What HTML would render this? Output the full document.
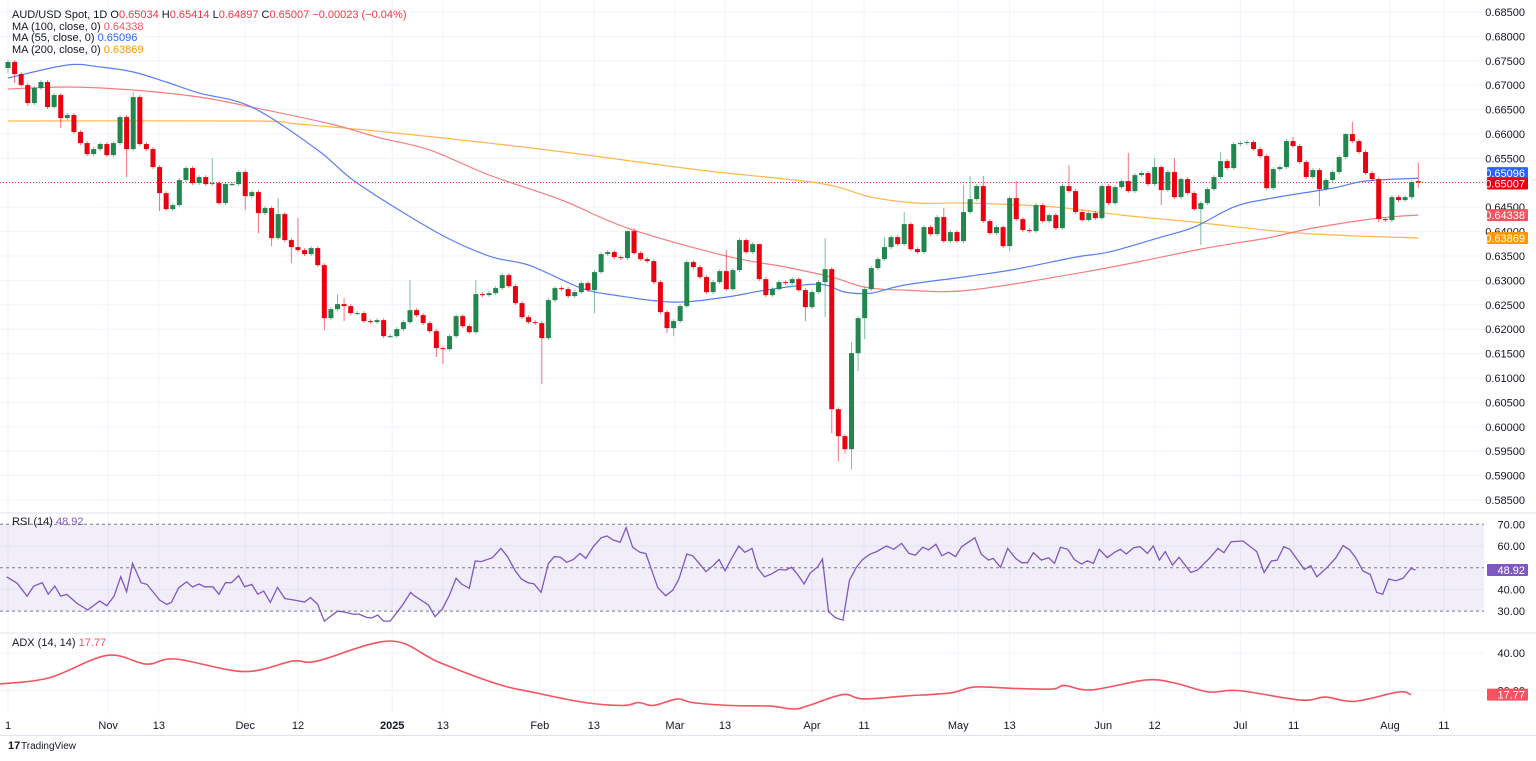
<!DOCTYPE html>
<html><head><meta charset="utf-8">
<style>
html,body{margin:0;padding:0;background:#fff;}
body{width:1536px;height:756px;overflow:hidden;font-family:"Liberation Sans",sans-serif;}
svg text{font-family:"Liberation Sans",sans-serif;}
</style></head>
<body>
<svg id="chart" width="1536" height="756" viewBox="0 0 1536 756" xmlns="http://www.w3.org/2000/svg">
  <g id="grid"></g>
  <g id="bands"></g>
  <g id="marks"></g>
  <g id="axes"></g>
  <g font-size="11">
    <text x="12" y="18" fill="#131722">AUD/USD Spot, 1D  <tspan>O</tspan><tspan fill="#f23645">0.65034</tspan>  H<tspan fill="#f23645">0.65414</tspan>  L<tspan fill="#f23645">0.64897</tspan>  C<tspan fill="#f23645">0.65007</tspan>  <tspan fill="#f23645">−0.00023 (−0.04%)</tspan></text>
    <text x="12" y="30" fill="#131722">MA (100, close, 0)  <tspan fill="#f7525f">0.64338</tspan></text>
    <text x="12" y="41" fill="#131722">MA (55, close, 0)  <tspan fill="#2962ff">0.65096</tspan></text>
    <text x="12" y="53" fill="#131722">MA (200, close, 0)  <tspan fill="#ff9800">0.63869</tspan></text>
    <text x="12" y="525" fill="#131722">RSI (14)  <tspan fill="#7e57c2">48.92</tspan></text>
    <text x="12" y="646" fill="#131722">ADX (14, 14)  <tspan fill="#f7525f">17.77</tspan></text>
  </g>
  <g>
    <text x="8" y="749" font-size="11" font-weight="bold" fill="#131722">17</text>
    <text x="21" y="749" font-size="10" fill="#131722">TradingView</text>
  </g>
</svg>
<script>
const closes=[.67475,.67229,.67003,.66634,.66942,.67065,.66552,.66798,.66327,.66388,.6604,.65814,.65589,.65691,.65794,.65568,.65814,.66347,.65691,.66757,.65794,.65691,.65322,.64789,.64461,.64543,.65056,.65302,.64994,.65117,.64974,.64994,.64584,.64974,.64974,.6522,.64728,.6481,.6438,.64482,.63867,.64359,.63826,.63682,.63621,.63539,.63662,.63313,.62227,.62411,.62514,.62473,.6233,.6233,.62166,.62145,.62186,.61858,.61858,.62001,.62145,.62391,.62288,.62124,.6196,.61612,.61591,.61858,.62268,.62063,.6194,.62719,.62698,.6274,.62842,.63108,.62883,.62534,.62247,.62145,.62124,.61817,.62596,.62842,.62821,.62678,.6276,.62944,.62801,.6317,.63539,.6358,.63477,.63457,.6401,.6356,.63436,.63395,.62965,.6235,.62022,.62166,.62473,.63375,.63272,.63067,.6276,.62965,.6319,.62821,.63211,.63826,.6358,.63744,.63026,.62698,.62821,.62965,.62944,.63026,.62801,.62452,.6276,.62965,.63231,.60361,.59808,.59541,.61509,.62227,.62821,.63252,.63436,.63682,.63887,.63744,.64154,.63641,.6358,.64092,.63949,.64297,.63805,.6399,.63805,.644,.64666,.64933,.64215,.6397,.64092,.63703,.64687,.64256,.64031,.6401,.64543,.64215,.64338,.64072,.64933,.6483,.644,.64236,.6438,.64277,.64933,.64584,.64912,.65035,.6483,.65158,.652,.64974,.65322,.64851,.6522,.64707,.65076,.64789,.64461,.64584,.64871,.65117,.65445,.65302,.65794,.65814,.65835,.65691,.65548,.64892,.65281,.65322,.65855,.65753,.65425,.65117,.65261,.64871,.65056,.6522,.65527,.65999,.65855,.6563,.652,.65076,.64256,.64236,.64707,.64646,.64707,.65015,.65007];
const firstOpen=0.67352;
const lastOpen=0.65034;
const hiNum=[1,20,21,32,42,45,51,52,62,72,95,96,110,112,115,125,129,134,137,143,146,147,149,154,162,171,175,178,185,196,204,205,215];
const hiVal=[.67516,.6686,.66798,.65507,.64687,.64277,.62719,.62637,.63006,.63006,.64031,.64072,.63621,.63867,.63621,.63867,.61735,.63887,.644,.64482,.64954,.65138,.65138,.65036,.65364,.6561,.65507,.65507,.6563,.65938,.6602,.66245,.65414];
const loNum=[1,2,4,9,19,24,37,39,41,44,49,52,66,67,82,90,101,102,122,125,126,127,128,129,130,131,153,176,182,200,209,211,215];
const loVal=[.67249,.67045,.66573,.66122,.65117,.64421,.64441,.63969,.63703,.63354,.61981,.62166,.6143,.61284,.60874,.6233,.6192,.61858,.62166,.62247,.59869,.59296,.5946,.59131,.61141,.61797,.636,.64543,.63723,.64523,.64195,.64195,.64897];
const ma55Idx=[0,9,14,19,24,29,37,47,53,65,73,79,87,92,101,109,115,123,127,131,136,146,153,162,167,175,180,186,191,201,206,214];
const ma55Val=[.67147,.67413,.67372,.6727,.67065,.66839,.66552,.65671,.64994,.6399,.63498,.63313,.62842,.62699,.62555,.62658,.62801,.62924,.6276,.6274,.62904,.63088,.63232,.63478,.6358,.63888,.64093,.64503,.64667,.64892,.65036,.65096];
const ma100Idx=[0,9,19,29,37,49,56,64,73,84,94,109,118,125,130,136,146,165,181,191,198,208,214];
const ma100Val=[.66922,.66963,.66901,.66758,.66552,.66204,.65937,.65671,.65159,.64646,.64072,.63498,.63273,.63068,.62863,.62801,.62801,.63211,.63641,.63867,.64072,.64277,.64338];
const ma200Idx=[0,37,44,59,82,105,123,131,138,146,159,169,180,196,214];
const ma200Val=[.66266,.66266,.66204,.66019,.65671,.65261,.64994,.64707,.64584,.64584,.64503,.64338,.64195,.63969,.63869];
const rsiIdx=[-0.2,1.4,2.9,3.9,5.2,6.1,7.1,8,8.9,10.5,12.1,13.9,15,16.1,17.1,18,18.9,20.2,21.1,23,24.1,24.8,25.9,27.1,28,29,29.8,31.1,32,33,33.9,35,35.9,37,37.9,38.8,39.8,40.9,42,43.8,45,45.9,47,48,50,50.9,52.3,53.3,54.4,55.2,56.1,57,58,59.8,61.1,61.5,63.8,64.8,65.9,67,68,68.9,70,70.9,71.8,73.5,74.8,75.8,77,77.9,78.9,79.8,80.9,82,82.9,83.8,84.8,85.8,86.8,87.7,88.8,90,90.9,91.8,92.9,93.8,94.8,95.9,96.8,98.6,99.8,100.9,101.8,103,103.9,104.8,105.9,107,107.9,108.8,109.8,110.9,111.8,112.9,113.8,114.8,115.9,117,118,118.9,119.7,120.8,121.7,122.9,123.6,124.5,125.6,126.7,127.7,128.8,129.7,130.8,131.8,133.3,134.4,135.6,136.7,137.7,138.8,139.7,140.8,141.7,142.7,143.8,144.7,146.7,147.7,148.8,149.5,150.6,151.7,152.9,153.8,154.7,155.6,156.8,157.9,158.8,159.7,160.8,161.8,162.9,163.8,164.7,165.6,166.8,167.9,168.8,169.7,170.8,171.8,172.9,173.8,174.7,175.6,176.7,177.7,179.5,180.5,182.4,183.6,184.5,185.6,187.4,189.5,190.6,191.7,192.6,193.6,194.5,196.7,197.7,198.6,200.2,201.5,202.6,203.6,204.5,205.6,206.7,207.7,208.6,209.5,210.6,211.7,212.9,213.6];
const rsiVal=[45.8,42.8,36.9,41.5,43.1,37.8,41.5,36.9,37.7,33.5,30.5,34.6,32.5,36.9,45.8,38.9,52,43.1,42.3,35.1,33.1,34,40.8,43.5,41.1,42.5,41.2,41.2,37.8,43.1,43.1,46.3,41.2,42.3,37.8,39.2,34,40.9,35.8,34.9,34.2,36.2,33.1,25.4,30,29.7,28.6,28.6,27.1,26.8,28.2,25.4,25.4,32.5,38.6,37.4,32.8,27.4,30.9,37.4,45.1,42.3,40.5,53.1,52.8,54.6,58.9,55.1,48.5,44.8,43.1,42.6,38.6,52,55.1,54.9,52.5,53.8,56.6,54.3,59.7,63.8,64.6,62.8,61.7,68.5,59.4,57.1,56.5,40.8,37.1,39.7,44.8,56.3,55.5,52.3,48.2,50.9,53.8,48.6,54.3,60,57.1,58.9,49.7,45.8,47.2,49.2,48.9,50.2,47.4,42.5,47.4,50.5,54,29.7,26.9,25.8,44.3,50.5,53.8,56.2,57.4,60,58.5,61.2,56.6,55.8,59.4,58.2,60.8,55.5,57.1,55.1,59.7,63.8,56.2,53.5,54.3,50.2,58.9,54.3,52.3,52.3,56.9,53.5,54.6,52,59.4,58.5,53.8,51.7,53.2,52,58.5,54.6,57.1,58.5,56.3,59.2,59.7,56.6,60,53.5,57.4,51.2,54.8,47.8,48.9,54.6,58.9,56.9,62,62.3,57.4,47.8,53.1,53.5,59.7,58.5,49.2,50.9,45.8,50.2,54.6,60.2,58.2,54.6,48.5,46.9,38.6,37.8,44.8,44,45.1,49.7,48.92];
const adxIdx=[-1.2,6.2,15,21,25.4,35.8,43.2,46.9,58,65.3,74.2,80.1,87.5,93.4,95.7,97.9,101.6,103.8,109.7,115.6,119.3,121.5,126.7,129.7,136.3,143,146.7,152.6,158.5,160.3,164.4,172.6,177,182.2,186.6,196.2,199.9,204.3,211,212.9];
const adxVal=[23.5,26.7,38.7,34.1,36.8,30.1,35.7,35.7,46.4,35.2,23.5,18.7,13.6,12,13.6,12,15.5,13.6,12,11.7,10.1,12,17.8,15.5,17.1,18.7,21.9,21.1,20.8,22.7,20.3,25.6,24,19.2,20,14.9,16.5,14.2,19.2,17.77];
const priceTicks=[.685,.68,.675,.67,.665,.66,.655,.65,.645,.64,.635,.63,.625,.62,.615,.61,.605,.6,.595,.59,.585];
const rsiTicks=[70,60,40,30];
const adxTicks=[40,20];
const dateLabels=["1","Nov","13","Dec","12","2025","13","Feb","13","Mar","13","Apr","11","May","13","Jun","12","Jul","11","Aug","11"];
const dateIdx=[0,15.2,22.9,36,44,58.3,66,80.7,88.9,101.2,108.8,122,129.9,144.2,152,166.2,174,187,195.1,209.7,217.9];

const NS="http://www.w3.org/2000/svg";
const xS=i=>8+i*6.59;
const yP=p=>12+(0.685-p)/0.005*24.4;
const yR=v=>567.7-(v-50)*2.17;
const yA=v=>690.5-(v-20)*1.875;
function mk(tag,attrs,parent){const e=document.createElementNS(NS,tag);for(const k in attrs)e.setAttribute(k,attrs[k]);parent.appendChild(e);return e;}
function smooth(pts){let d='M'+pts[0][0].toFixed(1)+','+pts[0][1].toFixed(1);
for(let i=0;i<pts.length-1;i++){const p0=pts[Math.max(0,i-1)],p1=pts[i],p2=pts[i+1],p3=pts[Math.min(pts.length-1,i+2)];
const c1=[p1[0]+(p2[0]-p0[0])/6,p1[1]+(p2[1]-p0[1])/6],c2=[p2[0]-(p3[0]-p1[0])/6,p2[1]-(p3[1]-p1[1])/6];
d+=' C'+c1[0].toFixed(1)+','+c1[1].toFixed(1)+' '+c2[0].toFixed(1)+','+c2[1].toFixed(1)+' '+p2[0].toFixed(1)+','+p2[1].toFixed(1);}
return d;}
const grid=document.getElementById('grid'),marks=document.getElementById('marks'),axes=document.getElementById('axes'),bands=document.getElementById('bands');
const PR=1484;
dateIdx.forEach((d,k)=>{const l=mk('line',{x1:xS(d),x2:xS(d),y1:0,y2:713,stroke:'#f0f3fa','stroke-width':1},grid);

});
priceTicks.forEach(p=>{const l=mk('line',{x1:0,x2:PR,y1:yP(p),y2:yP(p),stroke:'#f0f3fa'},grid);

});
[60,40].forEach(v=>{const l=mk('line',{x1:0,x2:PR,y1:yR(v),y2:yR(v),stroke:'#f0f3fa'},grid);

});
adxTicks.forEach(v=>{const l=mk('line',{x1:0,x2:PR,y1:yA(v),y2:yA(v),stroke:'#f0f3fa'},grid);

});
[513,633].forEach(y=>{const l=mk('line',{x1:0,x2:1536,y1:y,y2:y,stroke:'#e0e3eb'},grid);

});
const bl=mk('line',{x1:0,x2:1536,y1:735.5,y2:735.5,stroke:'#e0e3eb'},grid);


const band=mk('rect',{x:0,y:yR(70),width:PR,height:yR(30)-yR(70),fill:'rgba(126,87,194,0.1)'},bands);


[70,50,30].forEach(v=>{const l=mk('line',{x1:0,x2:PR,y1:yR(v),y2:yR(v),stroke:'#787b86','stroke-dasharray':'3,3','stroke-width':1},bands);

});
const lp=mk('line',{x1:0,x2:PR,y1:yP(closes[closes.length-1]),y2:yP(closes[closes.length-1]),stroke:'#f23645','stroke-dasharray':'1,2','stroke-width':1},marks);


function curve(idx,val,color,name){const pts=idx.map((d,k)=>[xS(d),yP(val[k])]);
const e=mk('path',{d:smooth(pts),fill:'none',stroke:color,'stroke-width':1.2},marks);

}
curve(ma200Idx,ma200Val,'#ffb74d','ma200-line');
curve(ma100Idx,ma100Val,'#f77c80','ma100-line');
curve(ma55Idx,ma55Val,'#5b7ff0','ma55-line');
const UP='#22874f',DN='#eb0010';
closes.forEach((c,i)=>{
 const o=i===0?firstOpen:(i===closes.length-1?lastOpen:closes[i-1]);
 const n=i+1;
 let hi=Math.max(o,c)+0.0004,lo=Math.min(o,c)-0.0004;
 const hk=hiNum.indexOf(n); if(hk>=0) hi=hiVal[hk];
 const lk=loNum.indexOf(n); if(lk>=0) lo=loVal[lk];
 const col=c>=o?UP:DN;const x=xS(i);
 const g=mk('g',{},marks);
 
 
 mk('line',{x1:x,x2:x,y1:yP(hi),y2:yP(lo),stroke:col,'stroke-opacity':0.55,'stroke-width':1},g);
 const top=yP(Math.max(o,c)),bot=yP(Math.min(o,c));
 mk('rect',{x:x-2.5,y:top,width:5,height:Math.max(1,bot-top),fill:col},g);
});
const rp=mk('polyline',{points:rsiIdx.map((d,k)=>xS(d).toFixed(1)+','+yR(rsiVal[k]).toFixed(1)).join(' '),fill:'none',stroke:'#7e57c2','stroke-width':1.3},marks);


const ap=mk('path',{d:smooth(adxIdx.map((d,k)=>[xS(d),yA(adxVal[k])])),fill:'none',stroke:'#f7525f','stroke-width':1.6},marks);


function txt(s,x,y,attrs,name){const e=mk('text',Object.assign({x:x,y:y,'font-size':11,fill:'#131722'},attrs||{}),axes);e.textContent=s;

return e;}
priceTicks.forEach(p=>txt(p.toFixed(5),1525,yP(p)+4,{'text-anchor':'end'},'price-tick'));
rsiTicks.forEach(v=>txt(v.toFixed(2),1525,yR(v)+4,{'text-anchor':'end'},'rsi-tick'));
adxTicks.forEach(v=>txt(v.toFixed(2),1525,yA(v)+4,{'text-anchor':'end'},'adx-tick'));
dateLabels.forEach((s,k)=>txt(s,xS(dateIdx[k]),729,{'text-anchor':'middle','font-weight':s==='2025'?'bold':'normal'},'date-label'));
function box(val,y,bg,name){const g=mk('g',{},axes);


mk('rect',{x:1487,y:y-6,width:41,height:12,fill:bg,rx:1},g);
const t=mk('text',{x:1525,y:y+4,'font-size':11,fill:'#fff','text-anchor':'end'},g);t.textContent=val;}
box('0.65096',yP(ma55Val[ma55Val.length-1])-5,'#2962ff','ma55-price-label');
box('0.65007',yP(closes[closes.length-1])+1,'#eb0010','last-price-label');
box('0.64338',yP(ma100Val[ma100Val.length-1]),'#f7525f','ma100-price-label');
box('0.63869',yP(ma200Val[ma200Val.length-1]),'#ff9800','ma200-price-label');
box('48.92',yR(rsiVal[rsiVal.length-1]),'#7e57c2','rsi-value-label');
box('17.77',yA(adxVal[adxVal.length-1]),'#f7525f','adx-value-label');
</script>
</body></html>
